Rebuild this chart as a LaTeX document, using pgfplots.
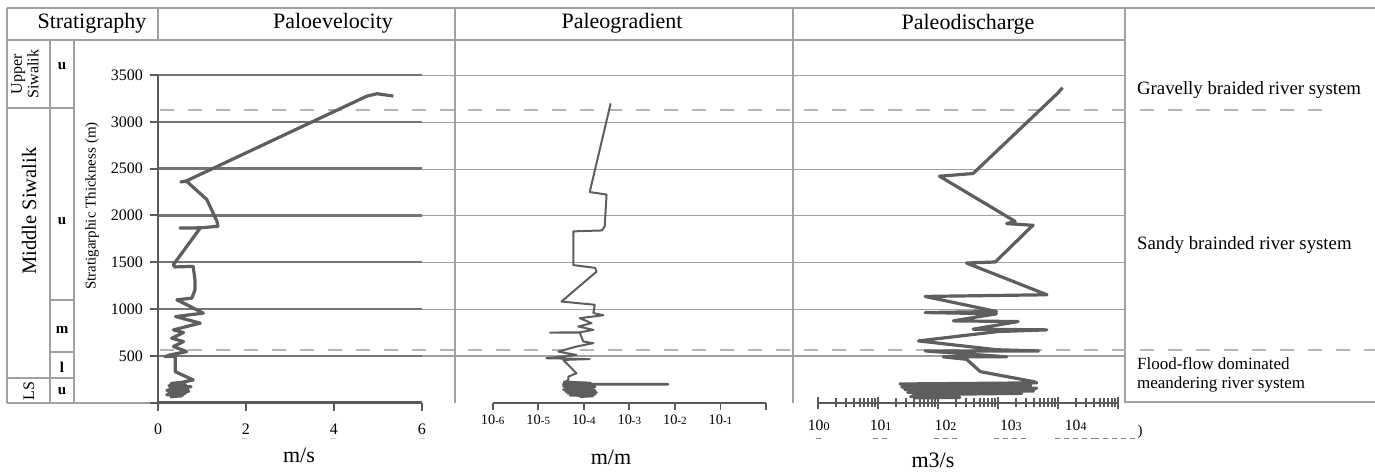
\documentclass[border=0pt]{standalone}
\usepackage{fontspec}
\setmainfont{Liberation Serif}
\usepackage{pgfplots}
\pgfplotsset{compat=1.18}
\definecolor{curve}{HTML}{5E5E5E}
\definecolor{framec}{HTML}{A0A0A0}
\definecolor{axisc}{HTML}{5A5A5A}
\definecolor{gridd}{HTML}{747474}
\definecolor{dashc}{HTML}{B4B4B4}

\begin{document}
\begin{tikzpicture}
% table frame, drawn in pixel units of the reference (y down)
\begin{scope}[x=0.5pt,y=-0.5pt]
\path[use as bounding box] (0,0) rectangle (1375,473);
\tikzset{fr/.style={draw=framec,line width=0.6pt}}
\draw[fr] (7,8) -- (1375,8);
\draw[fr] (7,40) -- (1125,40);
\foreach \x in {7,455,793,1125} \draw[fr] (\x,8) -- (\x,403);
\draw[fr] (158,8) -- (158,40);
\draw[fr] (50,40) -- (50,403) (74,40) -- (74,403);
\draw[fr] (7,108) -- (74,108) (50,300) -- (74,300) (50,352) -- (74,352)
          (7,378) -- (74,378) (7,403) -- (158,403);
\draw[fr] (1125,402) -- (1375,402);
\foreach \y in {75.7,122.4,169.1,215.8,262.6,309.3,356.0}
  \draw[fr] (158,\y) -- (1125,\y);
\draw[dashc,line width=0.6pt,dash pattern=on 7pt off 7pt] (160,110) -- (1330,110);
\draw[dashc,line width=0.6pt,dash pattern=on 7pt off 7pt] (160,350) -- (1375,350);

% headers
\node[font=\fontsize{11}{13}\selectfont] at (92,23) {Stratigraphy};
\node[font=\fontsize{11}{13}\selectfont] at (333,23) {Paloevelocity};
\node[font=\fontsize{11}{13}\selectfont] at (622,23) {Paleogradient};
\node[font=\fontsize{11}{13}\selectfont] at (968,24) {Paleodischarge};

% stratigraphy column
\node[rotate=90,align=center,font=\fontsize{8}{6.5}\selectfont] at (25,74) {Upper\\Siwalik};
\node[rotate=90,font=\fontsize{10.25}{12}\selectfont] at (29,211) {Middle Siwalik};
\node[rotate=90,font=\fontsize{8}{9}\selectfont] at (29,391) {LS};
\foreach \y/\t in {66/u,221/u,330/m,367/l,391/u}
  \node[font=\fontsize{7.5}{9}\selectfont\bfseries] at (62,\y) {\t};
\node[rotate=90,font=\fontsize{7.5}{9}\selectfont] at (92,206) {Stratigarphic Thickness (m)};

% right column
\node[anchor=west,font=\fontsize{9.4}{11}\selectfont] at (1130,90) {Gravelly braided river system};
\node[anchor=west,font=\fontsize{9.4}{11}\selectfont] at (1130,245) {Sandy brainded river system};
\node[anchor=west,align=left,font=\fontsize{8.5}{9.5}\selectfont] at (1130,375) {Flood-flow dominated\\meandering river system};

% unit labels
\node[font=\fontsize{11}{13}\selectfont] at (299,455) {m/s};
\node[font=\fontsize{11}{13}\selectfont] at (611,457) {m/m};
\node[font=\fontsize{11}{13}\selectfont] at (933,460) {m3/s};

% stray marks under the tick labels
\foreach \x in {245,333,422} \draw[dashc!60,line width=0.5pt] (\x-3,438) -- (\x+3,438);
\foreach \c/\n in {818/1,880/2,945/3,1010/4,1075/5} {
  \foreach \i in {1,...,\n} \draw[gray,line width=0.5pt] ({\c-(\n-1)*4.5+(\i-1)*9-2.5},438) -- ++(5,0);
}
\foreach \i in {0,...,4} \draw[gray,line width=0.5pt] ({1094+\i*9},438) -- ++(5,0);
\node[font=\fontsize{7.5}{9}\selectfont] at (1140,432) {)};
\end{scope}

% ---------- Paloevelocity ----------
\begin{axis}[
  at={(79pt,-201.35pt)}, anchor=south west, scale only axis,
  width=132pt, height=163.85pt,
  xmin=0, xmax=6, ymin=0, ymax=3500, clip=false,
  axis x line*=bottom, axis y line*=left,
  axis line style={-,draw=axisc,line width=1.4pt},
  xtick={0,2,4,6}, ytick={0,500,...,3500},
  yticklabels={,500,1000,1500,2000,2500,3000,3500},
  tick align=outside, major tick length=4pt,
  tick style={draw=axisc,line width=1pt},
  ymajorgrids, grid style={draw=gridd,line width=1.2pt},
  /pgf/number format/assume math mode=true,
  ticklabel style={font=\fontsize{8}{9}\selectfont},
  xticklabel style={yshift=-3pt},
]
\addplot[curve,line width=1.6pt,line join=round,no marks] coordinates {
(0.27,64) (0.55,74) (0.2,86) (0.62,98) (0.25,110) (0.7,122) (0.2,134) (0.68,146)
(0.28,158) (0.75,170) (0.25,182) (0.62,194) (0.3,206) (0.55,218) (0.8,243)
(0.39,332) (0.39,492) (0.16,492) (0.27,510) (0.65,546) (0.35,600) (0.58,653)
(0.31,689) (0.58,749) (0.35,778) (0.96,850) (0.40,920) (1.03,957) (0.43,1099)
(0.77,1117) (0.84,1206) (0.84,1313) (0.8,1456) (0.38,1450) (0.35,1474) (0.96,1866)
(0.5,1866) (0.96,1868) (1.36,1884) (1.34,1937) (1.11,2170) (0.65,2365)
(0.52,2358) (0.65,2370) (4.75,3275) (4.98,3300) (5.35,3275)
};
\end{axis}

% ---------- Paleogradient ----------
\begin{axis}[
  at={(246.35pt,-201.35pt)}, anchor=south west, scale only axis,
  width=136.65pt, height=163.85pt,
  xmode=log, xmin=1e-6, xmax=1, ymin=0, ymax=3500, clip=false,
  axis x line*=bottom, axis y line=none,
  axis line style={-,draw=axisc,line width=1.2pt},
  xtick={1e-6,1e-5,1e-4,1e-3,1e-2,1e-1,1},
  xticklabels={10{\fontsize{5.5}{6}\selectfont-6},10{\fontsize{5.5}{6}\selectfont-5},
    10{\fontsize{5.5}{6}\selectfont-4},10{\fontsize{5.5}{6}\selectfont-3},
    10{\fontsize{5.5}{6}\selectfont-2},10{\fontsize{5.5}{6}\selectfont-1},},
  ytick=\empty,
  tick align=outside, major tick length=3.5pt,
  tick style={draw=axisc,line width=0.9pt},
  minor x tick style={draw=none},
  ticklabel style={font=\fontsize{7.2}{9}\selectfont},
  xticklabel style={yshift=1pt},
]
\addplot[curve,line width=1.0pt,line join=round,no marks] coordinates {
(3.55e-5,220) (1.413e-4,212) (3.98e-5,225) (4.57e-5,243) (4.57e-5,278)
(6.92e-5,314) (3.55e-5,457) (1.349e-4,466) (1.514e-5,475) (6.92e-5,510)
(2.75e-5,546) (6.92e-5,600) (1.622e-4,636) (9.77e-5,653) (8.13e-5,749)
(1.82e-5,749) (8.13e-5,752) (1.622e-4,778) (7.59e-5,814) (1.479e-4,850)
(8.13e-5,903) (2.69e-4,934) (1.622e-4,957) (1.738e-4,1046) (3.24e-5,1081)
(1.905e-4,1400) (1.778e-4,1440) (5.89e-5,1470) (5.89e-5,1830) (2.51e-4,1840)
(2.88e-4,1884) (3.16e-4,2223) (1.349e-4,2250) (3.89e-4,3197)
};
\addplot[curve,line width=1.3pt,line join=round,no marks] coordinates {
(8.13e-5,64) (1.585e-4,72) (5.01e-5,80) (1.778e-4,90) (4.47e-5,100) (1.905e-4,110)
(3.98e-5,120) (1.778e-4,130) (3.55e-5,140) (1.585e-4,150) (3.98e-5,160)
(1.778e-4,168) (3.55e-5,176) (1.585e-4,184) (3.98e-5,190) (3.55e-5,197)
(7.08e-3,197) (3.55e-5,200) (1.413e-4,208) (3.55e-5,220)
};
\end{axis}

% ---------- Paleodischarge ----------
\begin{axis}[
  at={(408.85pt,-201.35pt)}, anchor=south west, scale only axis,
  width=150pt, height=163.85pt,
  xmode=log, xmin=1, xmax=1e5, ymin=0, ymax=3500, clip=false,
  axis x line*=bottom, axis y line=none,
  axis line style={-,draw=axisc,line width=1.2pt},
  xtick={1,10,100,1000,10000,100000}, xticklabels=\empty,
  minor xtick={2,3,4,5,6,7,8,9,20,30,40,50,60,70,80,90,200,300,400,500,600,700,800,900,
    2000,3000,4000,5000,6000,7000,8000,9000,20000,30000,40000,50000,60000,70000,80000,90000},
  ytick=\empty,
  tick align=center, major tick length=6pt, minor tick length=4.5pt,
  tick style={draw=axisc,line width=1pt},
  extra x ticks={1.04,11.2,134.9,1660,19950},
  extra x tick labels={10{\fontsize{6}{6}\selectfont 0},10{\fontsize{6}{6}\selectfont 1},
    10{\fontsize{6}{6}\selectfont 2},10{\fontsize{6}{6}\selectfont 3},10{\fontsize{6}{6}\selectfont 4}},
  extra x tick style={major tick length=0pt},
  ticklabel style={font=\fontsize{7.8}{9}\selectfont},
  xticklabel style={yshift=-5pt},
]
\addplot[curve,line width=1.6pt,line join=round,no marks] coordinates {
(38.9,52) (234,56) (35.5,66) (126,74) (39.8,86) (2512,100) (31.6,112) (3981,126)
(28.2,140) (4467,154) (25.1,168) (3548,182) (23.4,200) (4467,212) (3981,225)
(513,332) (302,464) (123,490) (1413,490) (61.7,553) (4786,553) (955,566)
(47.9,660) (1000,760) (6607,778) (389,785) (2188,867) (182,874) (955,950)
(61.7,963) (955,974) (61.7,1135) (6607,1153) (302,1492) (912,1503) (3236,1848)
(3890,1895) (1413,1913) (1950,1937) (107,2419) (389,2448) (10233,3312) (12023,3365)
};
\end{axis}
\end{tikzpicture}
\end{document}
